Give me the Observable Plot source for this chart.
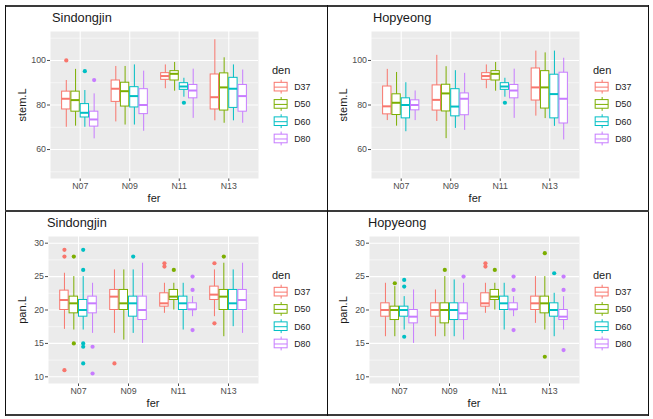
<!DOCTYPE html>
<html><head><meta charset="utf-8">
<script src="https://cdn.jsdelivr.net/npm/d3@7"></script>
<script src="https://cdn.jsdelivr.net/npm/@observablehq/plot@0.6"></script>
<style>
body{margin:0;background:#fff;font-family:"Liberation Sans",Arial,sans-serif;}
#wrap{position:relative;width:653px;height:419px;overflow:hidden;}
.panel{position:absolute;}
.panel svg{position:absolute;overflow:visible;}
.txt{position:absolute;white-space:nowrap;line-height:1;color:#1a1a1a;font-weight:400;}
.line{position:absolute;background:#222;}
</style>
</head><body>
<div id="wrap"></div>
<script>
// ---------- data ----------
const fer = ["N07", "N09", "N11", "N13"];
const den = ["D37", "D50", "D60", "D80"];
const denColors = ["#F8766D", "#7CAE00", "#00BFC4", "#C77CFF"];
const titles = ["Sindongjin", "Hopyeong", "Sindongjin", "Hopyeong"];

// box stats: [fer, den, lower whisker, Q1, median, Q3, upper whisker]
const sdStem = [
  ["N07","D37",70,78,82.8,86,91],   ["N07","D50",70.5,77,82.2,86,96],
  ["N07","D60",70,74.4,76.5,80.4,86.5], ["N07","D80",64.8,70.3,73.5,77,85],
  ["N09","D37",72.4,81.4,87.3,91,97.3], ["N09","D50",71,79.3,86.2,90,97.3],
  ["N09","D60",71,78.9,84,88,98],   ["N09","D80",68.2,75.9,80,87.1,95.2],
  ["N11","D37",87.3,91.3,93,94.3,98], ["N11","D50",86.2,91,94,95.2,99.1],
  ["N11","D60",83.5,86.8,88.3,89.8,92], ["N11","D80",74,83,86.5,89,96.1],
  ["N13","D37",72.9,78,83.5,93.7,109.3], ["N13","D50",71.8,77.5,87.9,94.2,101.2],
  ["N13","D60",72.9,78.7,87.3,92.2,98], ["N13","D80",71.8,77,84,89,95.7]
];
const sdStemOut = [["N07","D37",100],["N07","D60",95.2],["N07","D80",91.2],["N11","D60",81]];

const hpStem = [
  ["N07","D37",73,75.8,79.4,88.3,96], ["N07","D50",70.5,75.5,81,84.8,94.6],
  ["N07","D60",68,74,80,83,90],     ["N07","D80",73,77.6,80,82.1,86.3],
  ["N09","D37",72.6,77.5,82.3,88.8,102.3], ["N09","D50",64.9,77.1,85.2,89.1,97.2],
  ["N09","D60",69.5,74.9,79.3,87.1,95.4], ["N09","D80",68.6,75.4,82.8,85.2,94.2],
  ["N11","D37",87.3,91.3,93,94.3,98], ["N11","D50",86.2,91,94,95.2,99.1],
  ["N11","D60",83.5,86.8,88.3,89.8,92], ["N11","D80",74,83,86.5,89,96.1],
  ["N13","D37",75,82,87.9,96.4,104.2], ["N13","D50",73.9,78.4,87.9,95.2,103.4],
  ["N13","D60",70.4,74,84.9,93.6,104.2], ["N13","D80",64.3,71.7,82.8,94.5,101]
];
const hpStemOut = [["N11","D60",81]];

const sdPan = [
  ["N07","D37",17.1,20,21.5,22.9,25.5], ["N07","D50",17,19.5,21,22,25],
  ["N07","D60",17,19,20,21.5,25],     ["N07","D80",16.5,19.5,21,22,24],
  ["N09","D37",16.5,20,22,23,26],     ["N09","D50",15.5,20,21,23,26],
  ["N09","D60",16.5,19,21,22,26],     ["N09","D80",15,18.5,20,22,27],
  ["N11","D37",19.5,20.5,21,22.5,24], ["N11","D50",20,21.5,22,23,24],
  ["N11","D60",17,20,21,22,24],       ["N11","D80",19,20,20.1,21,22],
  ["N13","D37",19,21.5,22.3,23.5,26], ["N13","D50",16,20,22,23,27],
  ["N13","D60",17.5,20,21,23,26],     ["N13","D80",16.5,20,21.5,23,27]
];
const sdPanOut = [
  ["N07","D37",29],["N07","D37",28],["N07","D37",11],
  ["N07","D50",28],["N07","D50",15],
  ["N07","D60",29],["N07","D60",26],["N07","D60",15],["N07","D60",14.5],["N07","D60",12],
  ["N07","D80",14.5],["N07","D80",10.5],
  ["N09","D37",12],["N09","D60",28],
  ["N11","D37",27],["N11","D37",26.5],["N11","D50",26],
  ["N11","D80",25],["N11","D80",23],["N11","D80",17],
  ["N13","D37",27],["N13","D37",18],["N13","D50",28]
];

const hpPan = [
  ["N07","D37",16,19,20,21,24],       ["N07","D50",16,18.5,20,20.5,23.5],
  ["N07","D60",17,19,20,20.5,22],     ["N07","D80",15,18,19,20,23],
  ["N09","D37",16,19,20,21,23],       ["N09","D50",16,18,20,21,25],
  ["N09","D60",16,18.5,20,21,24.5],   ["N09","D80",15.5,18.5,19.5,21,24],
  ["N11","D37",19.5,20.5,21,22.5,24], ["N11","D50",20,21.5,22,23,24],
  ["N11","D60",17,20,21,22,24],       ["N11","D80",19,20,20.1,21,22],
  ["N13","D37",18,20,21,22,25],       ["N13","D50",17,19.5,21,22,25],
  ["N13","D60",16,19,20,21,22.5],     ["N13","D80",17,18.5,19,20,22]
];
const hpPanOut = [
  ["N07","D50",24],["N07","D60",24.5],["N07","D60",23.5],["N07","D60",16],
  ["N09","D50",26],["N09","D80",25],
  ["N11","D37",27],["N11","D37",26.5],["N11","D50",26],
  ["N11","D80",25],["N11","D80",23],["N11","D80",17],
  ["N13","D50",28.5],["N13","D50",13],["N13","D60",25.5],
  ["N13","D80",25],["N13","D80",23],["N13","D80",14]
];

const stemTicks = [60, 80, 100], stemMinor = [50, 70, 90, 110], stemLimits = [50, 110];
const panTicks = [10, 15, 20, 25, 30], panMinor = [12.5, 17.5, 22.5, 27.5], panLimits = [10, 30];

// ---------- drawing ----------
const FONT = '"Liberation Sans", Arial, sans-serif';
const dodge = 0.75 / den.length;
const halfBox = dodge * 0.9 / 2;
const xPos = (f, d) => fer.indexOf(f) + 1 + (den.indexOf(d) - (den.length - 1) / 2) * dodge;
const expand = ([a, b]) => [a - (b - a) * 0.05, b + (b - a) * 0.05];

const wrap = document.getElementById("wrap");

function addText(parent, text, style) {
  const d = document.createElement("div");
  d.className = "txt";
  d.textContent = text;
  Object.assign(d.style, style);
  parent.appendChild(d);
  return d;
}

function drawPanel(o) {
  const p = document.createElement("div");
  p.className = "panel";
  Object.assign(p.style, {left: o.left + "px", top: o.top + "px", width: "321px", height: o.h + "px"});
  wrap.appendChild(p);

  const boxes = o.rows.map(([f, d, lo, q1, med, q3, hi]) => ({fer: f, den: d, lo, q1, med, q3, hi, x: xPos(f, d)}));
  const outs = o.outs.map(([f, d, v]) => ({fer: f, den: d, v, x: xPos(f, d)}));
  const mt = 25, mb = o.h - 172, mr = 69;

  const chart = Plot.plot({
    width: 321, height: o.h,
    marginLeft: o.ml, marginRight: mr, marginTop: mt, marginBottom: mb,
    style: {fontFamily: FONT, fontSize: "8.8px", color: "#4d4d4d", background: "transparent", overflow: "visible"},
    x: {domain: [0.4, fer.length + 0.6], ticks: fer.map((_, i) => i + 1), tickFormat: v => fer[v - 1], label: null, tickSize: 3, tickPadding: 1.5},
    y: {domain: expand(o.limits), ticks: o.yTicks, label: null, tickSize: 3, tickPadding: 1.5},
    color: {domain: den, range: denColors},
    marks: [
      Plot.frame({fill: "#ebebeb", stroke: "none"}),
      Plot.ruleY(o.yMinor, {stroke: "#ffffff", strokeWidth: 0.55}),
      Plot.ruleY(o.yTicks, {stroke: "#ffffff", strokeWidth: 1.1}),
      Plot.ruleX(fer.map((_, i) => i + 1), {stroke: "#ffffff", strokeWidth: 1.1}),
      Plot.ruleX(boxes, {x: "x", y1: "lo", y2: "hi", stroke: "den", strokeWidth: 1}),
      Plot.rect(boxes, {x1: d => d.x - halfBox, x2: d => d.x + halfBox, y1: "q1", y2: "q3", fill: "#ffffff", stroke: "den", strokeWidth: 1}),
      Plot.ruleY(boxes, {y: "med", x1: d => d.x - halfBox, x2: d => d.x + halfBox, stroke: "den", strokeWidth: 2}),
      Plot.dot(outs, {x: "x", y: "v", fill: "den", stroke: "none", r: 2.1})
    ]
  });
  chart.style.left = "0px"; chart.style.top = "0px";
  p.appendChild(chart);

  // title
  addText(p, o.title, {left: o.tl + "px", top: (16.5 - 0.8465 * 12.8) + "px", fontSize: "12.8px"});
  // x title
  const cx = (o.ml + (321 - mr)) / 2;
  addText(p, "fer", {left: cx + "px", top: (196 - 0.8465 * 11) + "px", fontSize: "11px", transform: "translateX(-50%)"});
  // y title
  const cy = (mt + 172) / 2;
  addText(p, o.ytitle, {left: "15.5px", top: cy + "px", fontSize: "11px", transform: "translate(-50%,-50%) rotate(-90deg)"});
  // legend title
  addText(p, "den", {left: "266px", top: (68 - 0.8465 * 11) + "px", fontSize: "11px"});

  // legend keys
  const key = 17.28;
  const leg = Plot.plot({
    width: 60, height: key * den.length, margin: 0,
    style: {fontFamily: FONT, fontSize: "8.8px", background: "transparent", overflow: "visible"},
    x: {domain: [0, 1], range: [0, key], axis: null},
    y: {domain: [0, den.length], range: [0, key * den.length], axis: null},
    color: {domain: den, range: denColors},
    marks: [
      Plot.ruleX(den, {x: 0.5, y1: (d, i) => i + 0.1, y2: (d, i) => i + 0.9, stroke: d => d, strokeWidth: 1}),
      Plot.rect(den, {x1: 0.125, x2: 0.875, y1: (d, i) => i + 0.25, y2: (d, i) => i + 0.75, fill: "#ffffff", stroke: d => d, strokeWidth: 1}),
      Plot.ruleY(den, {y: (d, i) => i + 0.5, x1: 0.125, x2: 0.875, stroke: d => d, strokeWidth: 1}),
      Plot.text(den, {x: 1, y: (d, i) => i + 0.5, text: d => d, dx: 4.5, textAnchor: "start", fill: "#1a1a1a"})
    ]
  });
  leg.style.left = "265.5px"; leg.style.top = (81 - key / 2) + "px";
  p.appendChild(leg);
}

drawPanel({left: 6, top: 6, h: 205, ml: 44, tl: 46, title: titles[0], ytitle: "stem.L", rows: sdStem, outs: sdStemOut, limits: stemLimits, yTicks: stemTicks, yMinor: stemMinor});
drawPanel({left: 327, top: 6, h: 205, ml: 44, tl: 46, title: titles[1], ytitle: "stem.L", rows: hpStem, outs: hpStemOut, limits: stemLimits, yTicks: stemTicks, yMinor: stemMinor});
drawPanel({left: 6, top: 211, h: 204, ml: 42, tl: 41, title: titles[2], ytitle: "pan.L", rows: sdPan, outs: sdPanOut, limits: panLimits, yTicks: panTicks, yMinor: panMinor});
drawPanel({left: 327, top: 211, h: 204, ml: 42, tl: 41, title: titles[3], ytitle: "pan.L", rows: hpPan, outs: hpPanOut, limits: panLimits, yTicks: panTicks, yMinor: panMinor});

// frame lines around and between panels
function line(l, t, w, h, c) {
  const d = document.createElement("div");
  d.className = "line";
  Object.assign(d.style, {left: l + "px", top: t + "px", width: w + "px", height: h + "px", background: c});
  wrap.appendChild(d);
}
line(5, 5, 644, 2, "#3a3a3a");     // top
line(5, 414, 644, 2, "#3a3a3a");   // bottom
line(5, 5, 1.2, 411, "#111");      // left
line(647.5, 5, 1.2, 411, "#111");  // right
line(5, 210, 644, 2, "#3a3a3a");   // middle horizontal
line(326.5, 5, 1.2, 411, "#111");  // middle vertical
</script>
</body></html>
